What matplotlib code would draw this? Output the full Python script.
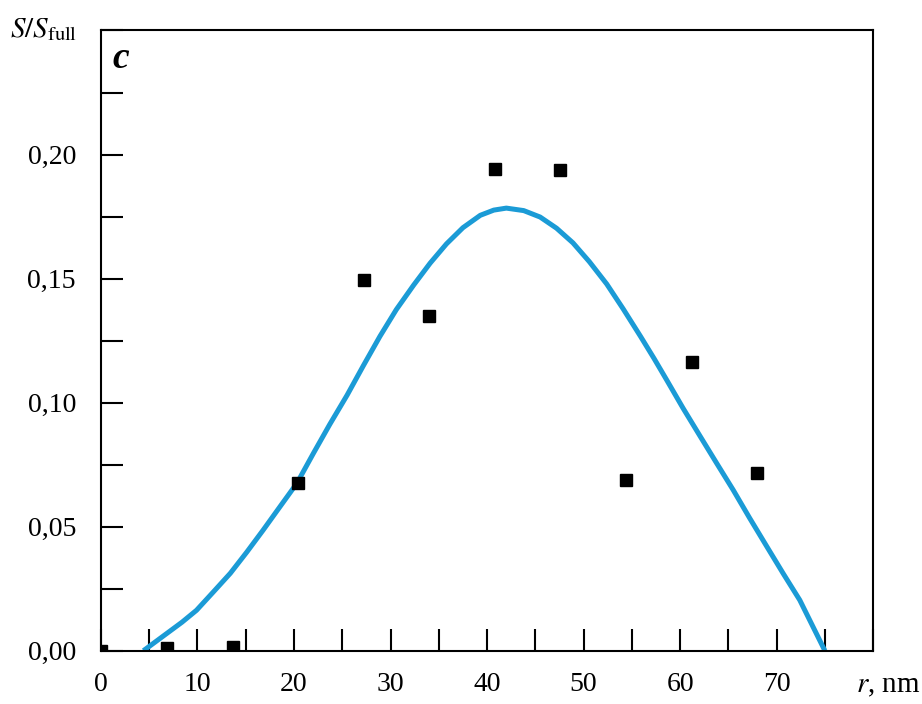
import numpy as np
import matplotlib.pyplot as plt
from matplotlib.ticker import MultipleLocator, FuncFormatter

plt.rcParams['font.family'] = ['Liberation Serif', 'DejaVu Serif']
plt.rcParams['mathtext.fontset'] = 'stix'

# measured points
r_pts = [0.0, 6.8, 13.7, 20.45, 27.25, 34.0, 40.8, 47.6, 54.4, 61.2, 68.0]
s_pts = [0.0, 0.001, 0.0015, 0.0675, 0.1495, 0.1348, 0.1942, 0.1936, 0.0689, 0.1162, 0.0715]

# fitted curve
r_fit = [4.4, 6.8, 8.4, 9.9, 11.6, 13.4, 15.1, 16.8, 18.5, 20.3, 22.0, 23.7,
         25.5, 27.2, 28.9, 30.6, 32.4, 34.1, 35.8, 37.5, 39.3, 40.7, 42.0,
         43.8, 45.5, 47.2, 48.9, 50.6, 52.4, 54.1, 55.9, 57.3, 58.6, 60.3,
         62.1, 63.8, 65.5, 67.2, 69.0, 70.7, 72.4, 73.7, 75.0]
s_fit = [0.0, 0.0069, 0.0115, 0.0163, 0.0235, 0.0312, 0.0397, 0.0486, 0.0578,
         0.0675, 0.0795, 0.0912, 0.1030, 0.1150, 0.1267, 0.1375, 0.1474,
         0.1562, 0.1640, 0.1705, 0.1755, 0.1776, 0.1784, 0.1774, 0.1748,
         0.1703, 0.1644, 0.1568, 0.1478, 0.1378, 0.1267, 0.1178, 0.1092,
         0.0978, 0.0863, 0.0755, 0.0648, 0.0535, 0.0419, 0.0310, 0.0204,
         0.0102, 0.0]

fig = plt.figure(figsize=(9.22, 7.04), dpi=100)
ax = fig.add_axes([0.1095, 0.0757, 0.8375, 0.881])

ax.plot(r_fit, s_fit, color='#1b9bd6', lw=3.6, solid_capstyle='butt',
        solid_joinstyle='round', zorder=2)
ax.plot(r_pts, s_pts, 's', color='black', ms=8.5, zorder=3)

ax.set_xlim(0, 80)
ax.set_ylim(0, 0.25)

ax.xaxis.set_major_locator(MultipleLocator(10))
ax.xaxis.set_minor_locator(MultipleLocator(5))
ax.yaxis.set_major_locator(MultipleLocator(0.05))
ax.yaxis.set_minor_locator(MultipleLocator(0.025))

ax.xaxis.set_major_formatter(FuncFormatter(lambda v, p: '%d' % v if v < 75 else ''))
ax.yaxis.set_major_formatter(
    FuncFormatter(lambda v, p: ('%.2f' % v).replace('.', ',') if v < 0.24 else ''))

for s in ax.spines.values():
    s.set_linewidth(1.5)

ax.tick_params(which='both', direction='in', length=16, width=1.5,
               top=False, right=False)
ax.tick_params(axis='x', which='major', labelsize=20, pad=15)
ax.tick_params(axis='y', which='major', labelsize=20, pad=18)

fig.text(0.011, 0.947, r'$S/S_{\mathrm{full}}$', fontsize=21, ha='left', va='baseline')
ax.text(0.0143, 0.940, 'c', transform=ax.transAxes, fontsize=27,
        fontweight='bold', fontstyle='italic', ha='left', va='baseline')
fig.text(0.928, 0.017, r'$r$, nm', fontsize=21, ha='left', va='baseline')

fig.savefig('out.png', dpi=100)
